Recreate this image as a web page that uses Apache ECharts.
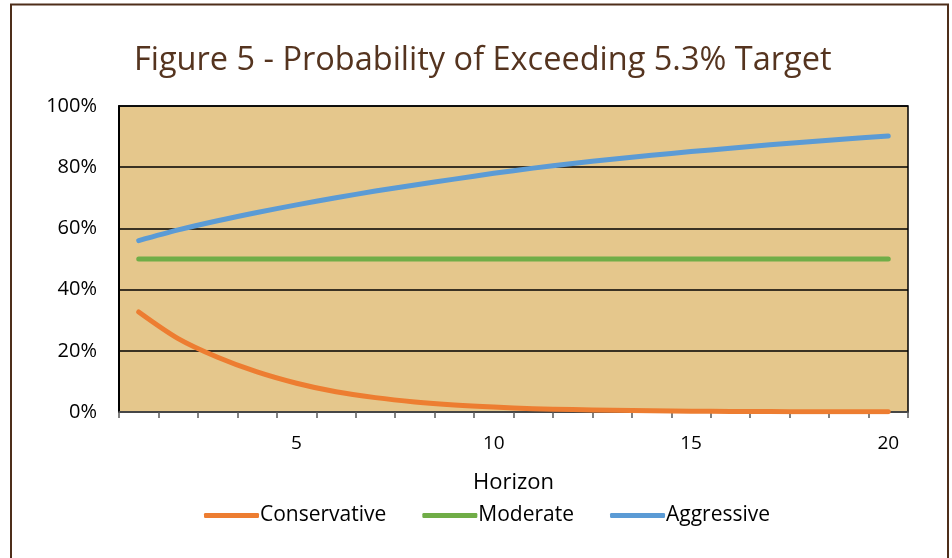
<!DOCTYPE html>
<html>
<head>
<meta charset="utf-8">
<script src="https://cdn.jsdelivr.net/npm/echarts@6/dist/echarts.min.js"></script>
<style>
html,body{margin:0;padding:0;background:#fff;}
#chart{width:952px;height:558px;}
</style>
</head>
<body>
<div id="chart"></div>
<script>
var horizons = [1,2,3,4,5,6,7,8,9,10,11,12,13,14,15,16,17,18,19,20];
var conservative = [32.7,24.0,17.9,13.1,9.4,6.6,4.7,3.3,2.3,1.6,1.1,0.8,0.55,0.4,0.28,0.2,0.14,0.1,0.07,0.05];
var moderate = [50,50,50,50,50,50,50,50,50,50,50,50,50,50,50,50,50,50,50,50];
var aggressive = [56.0,59.5,62.5,65.2,67.7,70.0,72.2,74.2,76.1,78.0,79.7,81.2,82.6,83.9,85.1,86.2,87.3,88.3,89.3,90.2];
var yTicks = [0,20,40,60,80,100];

var chart = echarts.init(document.getElementById('chart'));
var font = '"Open Sans", "Noto Sans", sans-serif';
function mkSeries(name, data, color){
  return {
    name: name, type: 'line', data: data, smooth: 0.3,
    symbol: 'none', lineStyle: {color: color, width: 5, cap: 'round', join: 'round'},
    itemStyle: {color: color}
  };
}
chart.setOption({
  animation: false,
  title: {
    text: 'Figure 5 - Probability of Exceeding 5.3% Target',
    left: 129, top: 39,
    textStyle: {color: '#55341F', fontFamily: font, fontSize: 32.5, fontWeight: 'normal'}
  },
  legend: {
    bottom: 27, left: 199, itemGap: 36, itemWidth: 55, itemHeight: 5,
    icon: 'roundRect',
    textStyle: {color: '#000', fontFamily: font, fontSize: 21, padding: [0,0,0,-4]},
    data: ['Conservative','Moderate','Aggressive']
  },
  grid: {
    left: 119, right: 44, top: 106, bottom: 146, show: true,
    backgroundColor: '#E5C78C', borderColor: '#000', borderWidth: 1.5
  },
  xAxis: {
    type: 'category', data: horizons, boundaryGap: true,
    name: 'Horizon', nameLocation: 'middle', nameGap: 60,
    nameTextStyle: {color: '#000', fontFamily: font, fontSize: 22},
    axisLine: {lineStyle: {color: '#595959', width: 1.5}},
    axisTick: {show: true, interval: 0, length: 6, lineStyle: {color: '#595959', width: 1.5}},
    axisLabel: {
      color: '#000', fontFamily: font, fontSize: 19, margin: 22,
      interval: function(idx){ return (idx + 1) % 5 === 0; }
    },
    splitLine: {show: false}
  },
  yAxis: {
    type: 'value', min: yTicks[0], max: yTicks[yTicks.length-1], interval: 20,
    axisLine: {show: true, lineStyle: {color: '#000', width: 2}},
    axisTick: {show: false},
    axisLabel: {color: '#000', fontFamily: font, fontSize: 20, margin: 22, formatter: '{value}%'},
    splitLine: {lineStyle: {color: '#000', width: 1.5}}
  },
  graphic: [{
    type: 'rect', shape: {x: 11, y: 4.5, width: 937, height: 600},
    style: {fill: 'none', stroke: '#4E2E1A', lineWidth: 2}, silent: true
  }],
  series: [
    mkSeries('Conservative', conservative, '#ED7D31'),
    mkSeries('Moderate', moderate, '#70AD47'),
    mkSeries('Aggressive', aggressive, '#5B9BD5')
  ]
});
</script>
</body>
</html>
